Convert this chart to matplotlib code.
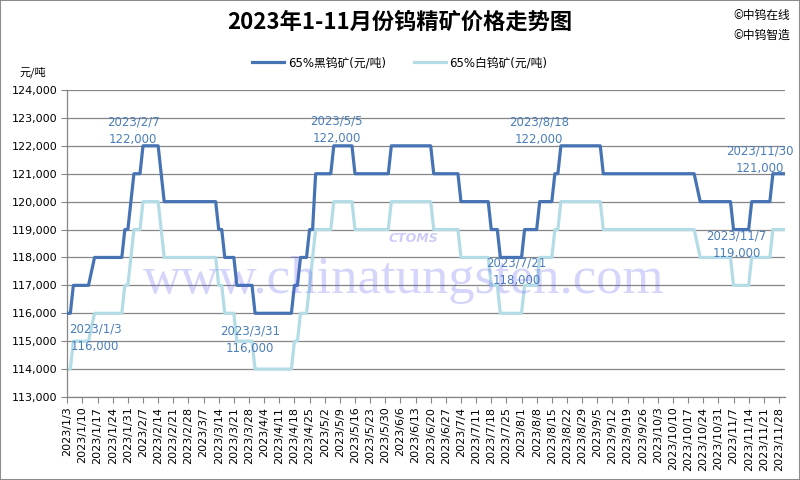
import matplotlib
matplotlib.use('Agg')
import matplotlib.pyplot as plt
import numpy as np
from matplotlib.patches import Rectangle
from matplotlib.lines import Line2D

plt.rcParams['font.family'] = ['DejaVu Sans', 'Noto Sans CJK SC']

# 65% wolframite (黑钨矿), run-length: price and number of trading days
wolf_vals = [116000, 117000, 117500, 118000, 119000, 120000, 121000, 122000, 121000, 120000,
             119000, 118000, 117000, 116000, 117000, 118000, 119000, 121000, 122000, 121000,
             122000, 121000, 120000, 119000, 118000, 119000, 120000, 121000, 122000, 121000,
             120500, 120000, 119000, 120000, 121000]
wolf_days = [2, 6, 1, 10, 2, 1, 3, 6, 1, 18,
             2, 4, 6, 13, 2, 3, 2, 6, 7, 12,
             14, 9, 10, 3, 8, 5, 5, 2, 14, 31,
             1, 11, 6, 7, 5]

# 65% scheelite (白钨矿)
sch_vals = [114000, 115000, 115500, 116000, 117000, 118000, 119000, 120000, 119000, 118000,
            117000, 116000, 115000, 114000, 115000, 116000, 117000, 118000, 119000, 120000,
            119000, 120000, 119000, 118000, 117000, 116000, 117000, 118000, 119000, 120000,
            119000, 118500, 118000, 117000, 118000, 119000]
sch_days = [2, 6, 1, 10, 2, 1, 3, 6, 1, 18,
            2, 4, 6, 13, 2, 3, 1, 1, 6, 7,
            12, 14, 9, 10, 3, 8, 5, 5, 2, 14,
            31, 1, 11, 6, 7, 5]

tick_labels = ['2023/1/3', '2023/1/10', '2023/1/17', '2023/1/24', '2023/1/31', '2023/2/7',
               '2023/2/14', '2023/2/21', '2023/2/28', '2023/3/7', '2023/3/14', '2023/3/21',
               '2023/3/28', '2023/4/4', '2023/4/11', '2023/4/18', '2023/4/25', '2023/5/2',
               '2023/5/9', '2023/5/16', '2023/5/23', '2023/5/30', '2023/6/6', '2023/6/13',
               '2023/6/20', '2023/6/27', '2023/7/4', '2023/7/11', '2023/7/18', '2023/7/25',
               '2023/8/1', '2023/8/8', '2023/8/15', '2023/8/22', '2023/8/29', '2023/9/5',
               '2023/9/12', '2023/9/19', '2023/9/26', '2023/10/3', '2023/10/10', '2023/10/17',
               '2023/10/24', '2023/10/31', '2023/11/7', '2023/11/14', '2023/11/21', '2023/11/28']

# labelled points: date, trading-day index
ann_dates = ['2023/1/3', '2023/2/7', '2023/3/31', '2023/5/5',
             '2023/7/21', '2023/8/18', '2023/11/7', '2023/11/30']
ann_idx = [0, 25, 63, 88, 143, 163, 220, 237]

wolf = np.repeat(wolf_vals, wolf_days)
sch = np.repeat(sch_vals, sch_days)
x = np.arange(len(wolf))

dark = '#4673b3'
light = '#b4dce6'
grey = '#868686'

fig = plt.figure(figsize=(8, 4.8), dpi=100)
ax = fig.add_axes([67.3 / 800, 1 - 397 / 480, (785 - 67.3) / 800, (397 - 90) / 480])

ax.plot(x, wolf, color=dark, lw=2.3, zorder=3)
ax.plot(x, sch, color=light, lw=2.3, zorder=2)

ax.set_xlim(0, len(wolf) - 1)
ax.set_ylim(113000, 124000)
ax.set_yticks(np.arange(113000, 124001, 1000))
ax.set_yticklabels([f'{v:,}' for v in range(113000, 124001, 1000)], fontsize=8)
ax.set_xticks(np.arange(0, len(wolf), 5))
ax.set_xticklabels(tick_labels, rotation=90, fontsize=8)
ax.tick_params(axis='both', direction='out', length=4, color=grey, width=0.8, pad=3)
ax.grid(axis='y', color=grey, lw=0.9, zorder=1)
ax.set_axisbelow(True)
for s in ['top', 'right']:
    ax.spines[s].set_visible(False)
for s in ['left', 'bottom']:
    ax.spines[s].set_color(grey)
    ax.spines[s].set_linewidth(0.9)

# label offsets in pixels (text centre relative to point)
offsets = [(28, -24), (-10, 15), (-8, -26), (3, 16), (16, -14), (-22, 15), (3, -15), (-25, 14)]
for d, i, (dx, dy) in zip(ann_dates, ann_idx, offsets):
    ax.annotate(f'{d}\n{wolf[i]:,}', xy=(i, wolf[i]), xytext=(dx, dy), textcoords='offset pixels',
                ha='center', va='center', color='#4a7ebb', fontsize=8.5, linespacing=1.45, zorder=5)

# watermark
fig.text(404 / 800, 1 - 293 / 480, 'www.chinatungsten.com', family='Liberation Serif', fontsize=38,
         color='#5a5af0', alpha=0.25, ha='center', va='baseline', zorder=6)
fig.text(413 / 800, 1 - 238 / 480, 'CTOMS', fontsize=9, fontstyle='italic', fontweight='bold',
         color='#6f6ff0', alpha=0.35, ha='center', va='center')

fig.text(0.5, 1 - 22 / 480, '2023年1-11月份钨精矿价格走势图', ha='center', va='center',
         fontsize=16, fontweight='bold', family=['Noto Sans CJK SC', 'DejaVu Sans'])
fig.text(733 / 800, 1 - 15 / 480, '©中钨在线', fontsize=8.5, va='center',
         family=['Noto Sans CJK SC', 'DejaVu Sans'])
fig.text(733 / 800, 1 - 35 / 480, '©中钨智造', fontsize=8.5, va='center',
         family=['Noto Sans CJK SC', 'DejaVu Sans'])
fig.text(20 / 800, 1 - 72 / 480, '元/吨', fontsize=8, va='center',
         family=['Noto Sans CJK SC', 'DejaVu Sans'])

handles = [Line2D([], [], color=dark, lw=2.3), Line2D([], [], color=light, lw=2.3)]
fig.legend(handles, ['65%黑钨矿(元/吨)', '65%白钨矿(元/吨)'], loc='center', ncol=2,
           bbox_to_anchor=(400 / 800, 1 - 63 / 480), frameon=False,
           handlelength=2.7, handletextpad=0.3, columnspacing=2.4,
           prop={'family': ['DejaVu Sans', 'Noto Sans CJK SC'], 'size': 8.5})

fig.patches.append(Rectangle((0, 0), 1, 1, transform=fig.transFigure, fill=False,
                             edgecolor='#8c8c8c', lw=1.5))

fig.savefig('out.png', dpi=100)
